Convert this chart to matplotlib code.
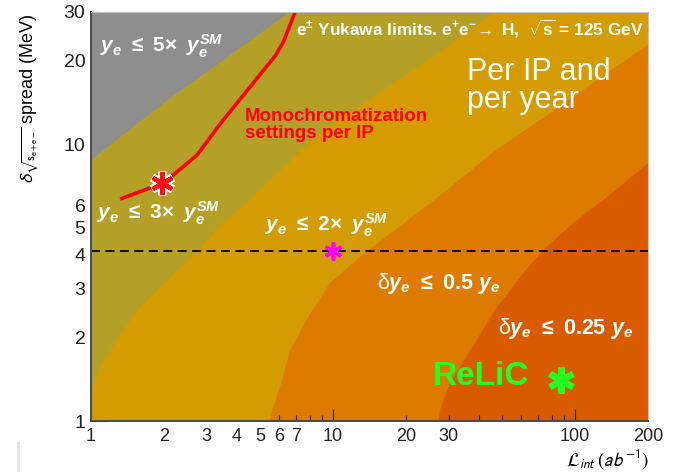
import matplotlib
matplotlib.use("Agg")
import matplotlib.pyplot as plt
from matplotlib.lines import Line2D

plt.rcParams['font.family'] = ['Liberation Sans', 'DejaVu Sans']
plt.rcParams['mathtext.fontset'] = 'custom'
plt.rcParams['mathtext.rm'] = 'Liberation Sans:bold'
plt.rcParams['mathtext.it'] = 'Liberation Sans:italic:bold'
plt.rcParams['mathtext.bf'] = 'Liberation Sans:bold'
plt.rcParams['mathtext.sf'] = 'Liberation Sans'

# region boundaries: (luminosity ab^-1, spread MeV)
grey_lumi = [1.0, 2.06, 3.86, 6.6]
grey_spread = [8.75, 14.4, 21.3, 30.0]

olive_lumi = [1.0, 1.11, 1.36, 1.59, 1.87, 2.74, 3.41, 4.13, 8.6, 27.7, 46.7]
olive_spread = [1.26, 1.62, 2.13, 2.58, 2.97, 4.07, 5.1, 5.82, 10.8, 21.5, 30.0]

gold_lumi = [5.44, 6.17, 6.64, 7.89, 9.72, 13.2, 20.0, 28.2, 45.7, 72.4, 200.0]
gold_spread = [1.0, 1.41, 1.80, 2.37, 3.15, 3.98, 5.25, 6.61, 9.33, 12.3, 22.9]

orange_lumi = [27.2, 27.7, 30.4, 36.8, 47.6, 61.0, 73.8, 98.2, 135.5, 200.0]
orange_spread = [1.0, 1.10, 1.37, 1.80, 2.58, 3.42, 4.14, 5.19, 6.44, 8.53]

# monochromatization settings curve
mono_lumi = [1.32, 2.0, 2.74, 3.41, 5.81, 6.25, 6.97]
mono_spread = [6.33, 7.25, 9.12, 11.8, 21.0, 23.5, 30.0]

mono_star = (1.97, 7.25)
mid_star = (10.0, 4.1)
relic_star = (87.5, 1.41)
dashed_spread = 4.1

x_major = [1, 10, 100]
x_major_labels = ["1", "10", "100"]
x_minor = [2, 3, 4, 5, 6, 7, 8, 9, 20, 30, 40, 50, 60, 70, 80, 90, 200]
x_minor_labels = ["2", "3", "4", "5", "6", "7", "", "", "20", "30",
                  "", "", "", "", "", "", "200"]
y_major = [1, 10]
y_major_labels = ["1", "10"]
y_minor = [2, 3, 4, 5, 6, 7, 8, 9, 20, 30]
y_minor_labels = ["2", "3", "4", "5", "6", "", "", "", "20", "30"]

c_grey = "#8e8e8e"
c_olive = "#b49f27"
c_gold = "#d49c00"
c_orange = "#dc7b00"
c_dark = "#d85b00"

fig = plt.figure(figsize=(6.77, 4.72), dpi=100)
ax = fig.add_axes([91/677, 51/472, 557/677, 409/472])
ax.set_xscale("log")
ax.set_yscale("log")
ax.set_xlim(1, 200)
ax.set_ylim(1, 30)
ax.set_facecolor(c_dark)

# each band is filled from the left edge up to its boundary
ax.fill([0.5, orange_lumi[0]] + orange_lumi + [400, 400, 0.5],
        [0.5, 0.5] + orange_spread + [orange_spread[-1], 40, 40],
        color=c_orange, lw=0, zorder=1)
ax.fill([0.5, gold_lumi[0]] + gold_lumi + [400, 400, 0.5],
        [0.5, 0.5] + gold_spread + [gold_spread[-1], 40, 40],
        color=c_gold, lw=0, zorder=2)
ax.fill([0.5] + olive_lumi + [olive_lumi[-1], 0.5],
        [olive_spread[0]] + olive_spread + [40, 40],
        color=c_olive, lw=0, zorder=3)
ax.fill([0.5] + grey_lumi + [grey_lumi[-1], 0.5],
        [grey_spread[0]] + grey_spread + [40, 40],
        color=c_grey, lw=0, zorder=4)

ax.axhline(dashed_spread, color="black", ls=(0, (5, 3)), lw=1.3, zorder=5)
ax.plot(mono_lumi, mono_spread, color="#ff0000", lw=2.6, zorder=6,
        solid_capstyle="butt")

ast = (6, 2, 0)
ax.plot(*mono_star, marker=ast, ms=17, mew=6, color="white", zorder=7)
ax.plot(*mono_star, marker=ast, ms=16, mew=3.2, color="#ff1010", zorder=8)
ax.plot(*mid_star, marker=ast, ms=13, mew=2.6, color="#ff00ff", zorder=8,
        clip_on=False)
ax.plot(*relic_star, marker=ast, ms=19, mew=4.5, color="#22ff22", zorder=8)

# labels
tk = dict(transform=ax.transAxes, color="white", fontsize=15,
          math_fontfamily="custom", zorder=9, ha="left", va="center")
ax.text(0.016, 0.917, r"$y_{e}\ \leq\ \mathit{5}\!\times\ y_{e}^{SM}$", **tk)
ax.text(0.011, 0.508, r"$y_{e}\ \leq\ \mathit{3}\!\times\ y_{e}^{SM}$", **tk)
ax.text(0.312, 0.479, r"$y_{e}\ \leq\ \mathit{2}\!\times\ y_{e}^{SM}$", **tk)
tk["fontsize"] = 15.5
ax.text(0.513, 0.337,
        r"$\mathsf{\delta}y_{e}\ \leq\ \mathit{0.5}\ y_{e}$", **tk)
ax.text(0.731, 0.227,
        r"$\mathsf{\delta}y_{e}\ \leq\ \mathit{0.25}\ y_{e}$", **tk)

ax.text(0.276, 0.765, "Monochromatization\nsettings per IP",
        transform=ax.transAxes, color="#ff0000", fontsize=13.5,
        fontweight="bold", ha="left", va="top", linespacing=1.0, zorder=9)
ax.text(0.675, 0.890, "Per IP and\nper year", transform=ax.transAxes,
        color="white", fontsize=22, ha="left", va="top", linespacing=0.9,
        zorder=9)
ax.text(0.614, 0.110, "ReLiC", transform=ax.transAxes, color="#22ff22",
        fontsize=24, fontweight="bold", ha="left", va="center", zorder=9)
ax.text(0.368, 0.958,
        r"e$^{\pm}$ Yukawa limits. e$^{+}$e$^{-}\!\rightarrow$ H,  "
        r"$\sqrt{\mathrm{s}}$ = 125 GeV",
        transform=ax.transAxes, color="white", fontsize=12.4,
        fontweight="bold", math_fontfamily="custom", ha="left",
        va="center", zorder=9)

# axes styling
for s in ("left", "bottom"):
    ax.spines[s].set_color("#4a4a4a")
    ax.spines[s].set_linewidth(1.4)
for s in ("top", "right"):
    ax.spines[s].set_color("#c4c4c4")
    ax.spines[s].set_linewidth(0.8)
for s in ax.spines.values():
    s.set_zorder(10)

ax.set_xticks(x_major, x_major_labels)
ax.set_xticks(x_minor, x_minor_labels, minor=True)
ax.set_yticks(y_major, y_major_labels)
ax.set_yticks(y_minor, y_minor_labels, minor=True)
ax.tick_params(axis="both", which="both", direction="in",
               colors="#222222", width=0.8, top=False, right=False)
ax.tick_params(axis="x", which="both", labelsize=13)
ax.tick_params(axis="y", which="both", labelsize=14)
ax.tick_params(axis="x", which="major", length=8.5, pad=5)
ax.tick_params(axis="x", which="minor", length=4.3, pad=5)
ax.tick_params(axis="y", which="major", length=12, pad=4)
ax.tick_params(axis="y", which="minor", length=6.5, pad=4)

fig.text(30/677, 1 - 13/472,
         r"$\delta_{\sqrt{\mathrm{s}_{\mathrm{e+e-}}}}$ spread (MeV)",
         rotation=90, ha="center", va="top", fontsize=13,
         math_fontfamily="stixsans")
fig.text(648/677, 13/472, r"$\mathcal{L}_{int}\ (ab^{-1})$",
         ha="right", va="center", fontsize=13.5, math_fontfamily="stixsans")

fig.add_artist(Line2D([18/677, 18/677], [0, 29/472], color="#e2e2e2", lw=2))

fig.savefig("out.png", dpi=100)
